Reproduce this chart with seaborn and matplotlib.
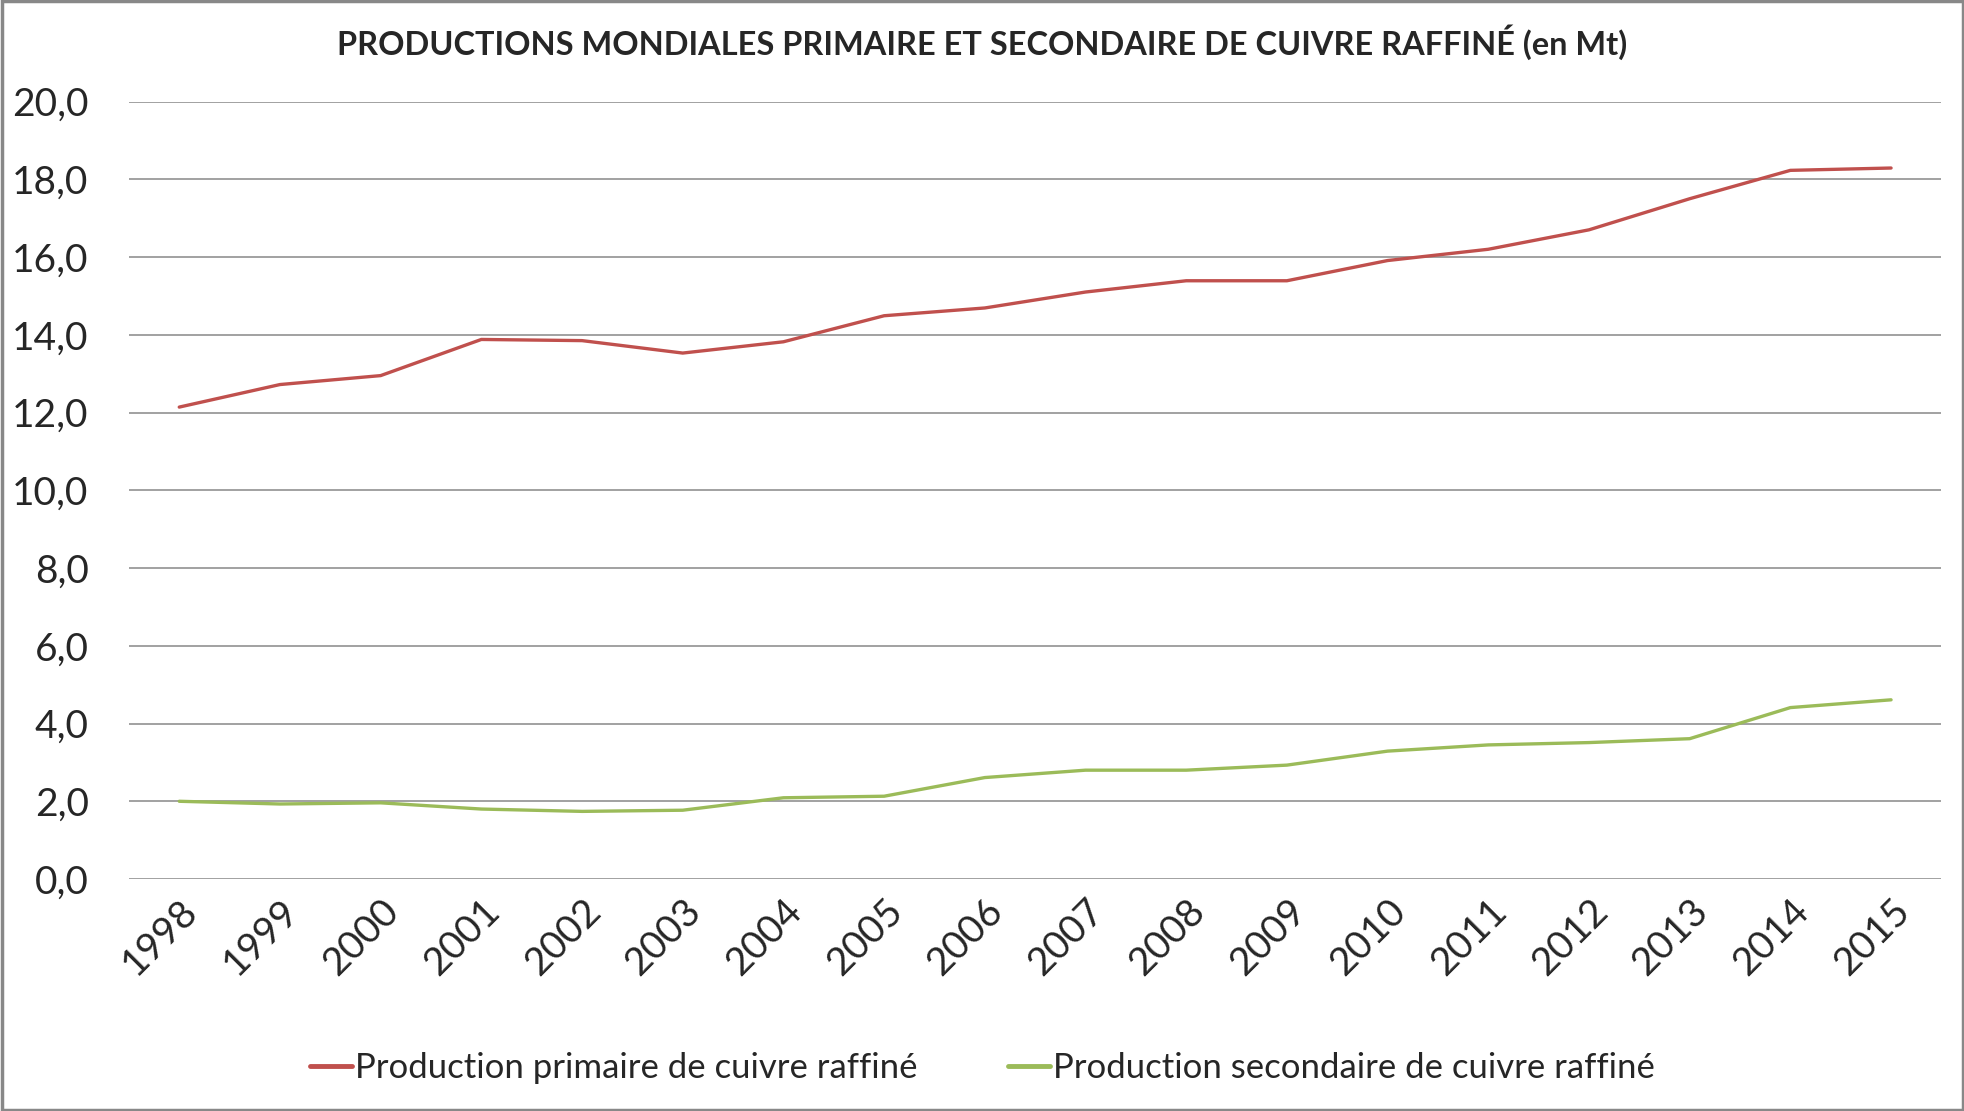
import matplotlib
matplotlib.use("Agg")
import matplotlib.pyplot as plt
import seaborn as sns
import pandas as pd
from matplotlib.ticker import FuncFormatter, MultipleLocator

# Données (Mt)
annees = [1998, 1999, 2000, 2001, 2002, 2003, 2004, 2005, 2006,
          2007, 2008, 2009, 2010, 2011, 2012, 2013, 2014, 2015]
primaire = [12.14, 12.72, 12.95, 13.88, 13.85, 13.53, 13.82, 14.49, 14.69,
            15.10, 15.39, 15.39, 15.91, 16.20, 16.70, 17.50, 18.23, 18.29]
secondaire = [2.00, 1.93, 1.96, 1.80, 1.74, 1.77, 2.09, 2.13, 2.61,
              2.80, 2.80, 2.93, 3.29, 3.45, 3.51, 3.61, 4.41, 4.61]
noms = ["Production primaire de cuivre raffiné",
        "Production secondaire de cuivre raffiné"]
couleurs = ["#C0504D", "#9BBB59"]
titre = "PRODUCTIONS MONDIALES PRIMAIRE ET SECONDAIRE DE CUIVRE RAFFINÉ (en Mt)"

df = pd.DataFrame({
    "annee": annees * 2,
    "valeur": primaire + secondaire,
    "serie": [noms[0]] * len(annees) + [noms[1]] * len(annees),
})

sns.set_style("white")
plt.rcParams["font.family"] = ["Lato", "DejaVu Sans"]

fig = plt.figure(figsize=(19.65, 11.11), dpi=100)
ax = fig.add_axes([0.0656, 0.2088, 0.9224, 0.6998])

sns.lineplot(data=df, x="annee", y="valeur", hue="serie",
             palette=couleurs, linewidth=2.4, ax=ax)

ax.set_xlim(annees[0] - 0.5, annees[-1] + 0.5)
ax.set_ylim(0, 20)
ax.yaxis.set_major_locator(MultipleLocator(2))
ax.yaxis.set_major_formatter(FuncFormatter(lambda v, p: f"{v:.1f}".replace(".", ",")))
ax.set_xticks(annees)
ax.set_xticklabels([str(a) for a in annees], rotation=45, ha="right",
                   rotation_mode="anchor", fontsize=28)
ax.tick_params(axis="y", labelsize=28, length=0, pad=29)
ax.tick_params(axis="x", length=0, pad=10)
ax.grid(axis="y", color="#888888", linewidth=1.1)
ax.set_axisbelow(True)
for s in ax.spines.values():
    s.set_visible(False)
ax.set_xlabel("")
ax.set_ylabel("")

leg = ax.legend(loc="center", bbox_to_anchor=(0.5, 0.039),
                bbox_transform=fig.transFigure, ncol=2, frameon=False,
                fontsize=25, handlelength=1.2, handletextpad=0.1,
                columnspacing=2.6)
for l in leg.get_lines():
    l.set_linewidth(3.5)

fig.text(0.5, 0.962, titre, ha="center", va="center", fontsize=23.4,
         fontweight="bold")

# cadre gris autour de la figure
fig.patches.append(plt.Rectangle((0.001, 0.001), 0.998, 0.998,
                                 transform=fig.transFigure, fill=False,
                                 edgecolor="#888888", linewidth=2.5))

fig.savefig("out.png", dpi=100)
